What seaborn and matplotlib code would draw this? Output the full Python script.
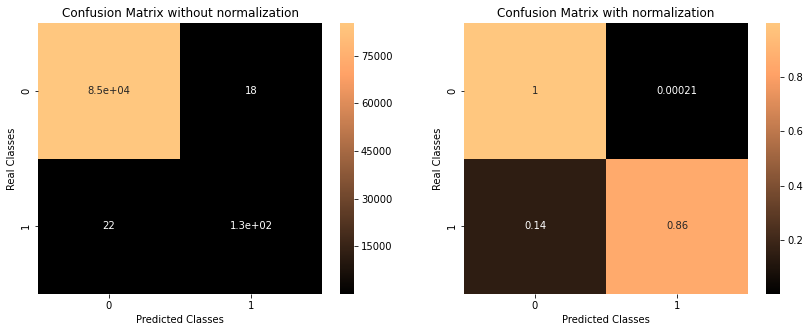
import numpy as np
import matplotlib
matplotlib.use("Agg")
import matplotlib.pyplot as plt
import seaborn as sns

classes = ["0", "1"]
cm_counts = np.array([[85273, 18],
                      [22, 130]])
row_totals = cm_counts.sum(axis=1, keepdims=True)
cm_norm = cm_counts / row_totals

left_ticks = [15000, 30000, 45000, 60000, 75000]
right_ticks = [0.2, 0.4, 0.6, 0.8]

W, H = 809, 333
fig = plt.figure(figsize=(W / 72, H / 72), dpi=72)

def pos(x0, y0, x1, y1):
    return [x0 / W, (H - y1) / H, (x1 - x0) / W, (y1 - y0) / H]

ax1 = fig.add_axes(pos(38, 23, 322, 294))
cax1 = fig.add_axes(pos(340, 23, 354, 294))
ax2 = fig.add_axes(pos(464, 23, 748, 294))
cax2 = fig.add_axes(pos(766, 23, 780, 294))

sns.heatmap(cm_counts, annot=True, cmap="copper", ax=ax1, cbar_ax=cax1,
            xticklabels=classes, yticklabels=classes)
ax1.set_title("Confusion Matrix without normalization", fontsize=12)
ax1.set_xlabel("Predicted Classes")
ax1.set_ylabel("Real Classes")
cax1.set_yticks(left_ticks)
cax1.set_yticklabels([str(t) for t in left_ticks])

sns.heatmap(cm_norm, annot=True, cmap="copper", ax=ax2, cbar_ax=cax2,
            xticklabels=classes, yticklabels=classes)
ax2.set_title("Confusion Matrix with normalization", fontsize=12)
ax2.set_xlabel("Predicted Classes")
ax2.set_ylabel("Real Classes")
cax2.set_yticks(right_ticks)
cax2.set_yticklabels([str(t) for t in right_ticks])

for ax in (ax1, ax2):
    for lbl in ax.get_yticklabels():
        lbl.set_rotation(90)
        lbl.set_va("center")

fig.savefig("out.png", dpi=72)
